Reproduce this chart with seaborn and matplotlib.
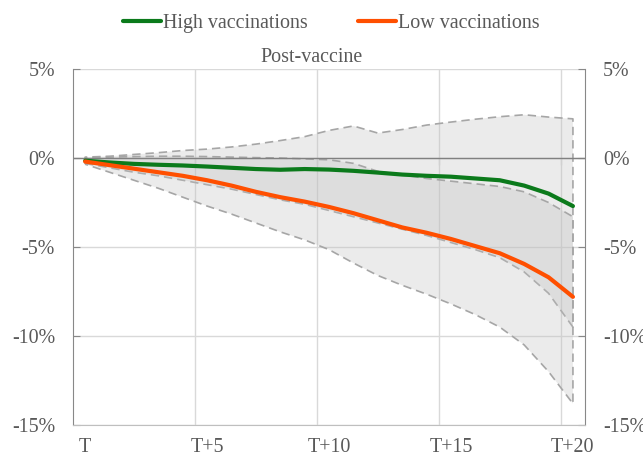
import matplotlib
matplotlib.use('Agg')
import matplotlib.pyplot as plt
import pandas as pd
import seaborn as sns

# Horizons T .. T+20
steps = list(range(21))
tick_labels = ['T', 'T+5', 'T+10', 'T+15', 'T+20']

# Point estimates (%)
high_vacc = [-0.15, -0.25, -0.33, -0.38, -0.42, -0.48, -0.55, -0.62, -0.66, -0.62, -0.65,
             -0.72, -0.82, -0.93, -1.0, -1.05, -1.15, -1.25, -1.55, -2.0, -2.7]
low_vacc = [-0.2, -0.4, -0.6, -0.8, -1.0, -1.25, -1.55, -1.9, -2.2, -2.45, -2.75,
            -3.1, -3.5, -3.9, -4.2, -4.55, -4.95, -5.35, -5.95, -6.7, -7.8]

# Confidence bands (%)
high_upper = [0.05, 0.1, 0.2, 0.3, 0.42, 0.5, 0.62, 0.78, 0.98, 1.2, 1.55,
              1.8, 1.4, 1.6, 1.85, 2.02, 2.18, 2.32, 2.43, 2.3, 2.2]
high_lower = [-0.3, -0.55, -0.8, -1.0, -1.25, -1.5, -1.75, -2.05, -2.35, -2.6, -2.95,
              -3.3, -3.65, -4.0, -4.35, -4.75, -5.15, -5.6, -6.4, -7.6, -9.5]
low_upper = [0.0, 0.05, 0.08, 0.1, 0.1, 0.08, 0.05, 0.02, 0.0, -0.05, -0.1,
             -0.3, -0.75, -0.95, -1.15, -1.3, -1.45, -1.6, -1.9, -2.5, -3.3]
low_lower = [-0.35, -0.8, -1.25, -1.7, -2.2, -2.7, -3.15, -3.65, -4.15, -4.6, -5.15,
             -5.9, -6.6, -7.15, -7.65, -8.2, -8.8, -9.5, -10.5, -12.0, -13.8]

sns.set_style('white')
plt.rcParams['font.family'] = ['Liberation Serif', 'DejaVu Serif']
txt = '#595959'
fs = 14.4

df = pd.DataFrame({
    'step': steps * 2,
    'value': high_vacc + low_vacc,
    'group': ['High vaccinations'] * 21 + ['Low vaccinations'] * 21,
})

fig = plt.figure(figsize=(6.43, 4.57), dpi=100)
ax = fig.add_axes([0.1135, 0.0700, 0.7965, 0.7790])

# Bands (overlap gets darker)
for up, lo in [(high_upper, high_lower), (low_upper, low_lower)]:
    ax.fill_between(steps, up, lo, facecolor=(0.75, 0.75, 0.75, 0.3),
                    edgecolor='#a6a6a6', linestyle=(0, (5, 3)), linewidth=1.2, zorder=1)

sns.lineplot(data=df, x='step', y='value', hue='group',
             palette={'High vaccinations': '#0b7a1b', 'Low vaccinations': '#ff4f00'},
             linewidth=3, ax=ax, zorder=3)

ax.set_xlim(-0.5, 20.5)
ax.set_ylim(-15, 5)

# y axis on both sides
yt = [5, 0, -5, -10, -15]
ax.set_yticks(yt)
ax.set_yticklabels([f'{v}%' for v in yt])
ax.tick_params(axis='y', left=True, right=True, labelleft=True, labelright=True,
               direction='in', length=5, color='#888888', labelsize=fs,
               labelcolor=txt, pad=13)

# x axis: labels at category centres, grid at boundaries
ax.set_xticks([0, 5, 10, 15, 20])
ax.set_xticklabels(tick_labels)
ax.set_xticks([4.5, 9.5, 14.5, 19.5], minor=True)
ax.tick_params(axis='x', which='both', length=0, labelsize=fs, labelcolor=txt, pad=9)
ax.grid(True, axis='x', which='minor', color='#d9d9d9', linewidth=1)
ax.grid(True, axis='y', which='major', color='#d9d9d9', linewidth=1)
ax.axhline(0, color='#808080', linewidth=1, zorder=2)

# small tick marks hanging from the zero line
sec = ax.secondary_xaxis(0.75)
sec.set_xticks([4.5, 9.5, 14.5, 19.5])
sec.set_xticklabels([''] * 4)
sec.tick_params(length=5, direction='in', color='#808080')
for s in sec.spines.values():
    s.set_visible(False)

for s in ['left', 'right']:
    ax.spines[s].set_color('#888888')
ax.spines['bottom'].set_color('#bfbfbf')
ax.spines['top'].set_visible(False)

ax.set_xlabel('')
ax.set_ylabel('')
ax.text(0.465, 1.005, 'Post-vaccine', transform=ax.transAxes, ha='center', va='bottom',
        fontsize=fs, color=txt)

ax.legend(loc='lower center', bbox_to_anchor=(0.505, 1.05), ncol=2, frameon=False,
          fontsize=fs, handlelength=1.9, handletextpad=0.1, columnspacing=2.5,
          labelcolor=txt)

fig.savefig('out.png', dpi=100)
